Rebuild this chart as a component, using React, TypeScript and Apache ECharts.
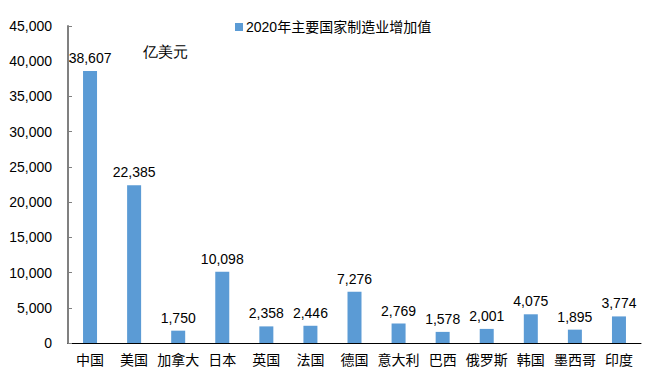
import React, { useEffect, useRef } from "react";
import * as echarts from "echarts";

const categories = ["中国", "美国", "加拿大", "日本", "英国", "法国", "德国", "意大利", "巴西", "俄罗斯", "韩国", "墨西哥", "印度"];
const values = [38607, 22385, 1750, 10098, 2358, 2446, 7276, 2769, 1578, 2001, 4075, 1895, 3774];
const seriesName = "2020年主要国家制造业增加值";
const unitLabel = "亿美元";

const FONT = "'Liberation Sans', Arial, 'Noto Sans CJK SC', sans-serif";

export default function App() {
  const ref = useRef<HTMLDivElement>(null);
  useEffect(() => {
    if (!ref.current) return;
    const chart = echarts.init(ref.current, undefined, { renderer: "svg" });
    chart.setOption({
      animation: false,
      backgroundColor: "#ffffff",
      textStyle: { fontFamily: FONT },
      legend: {
        data: [seriesName],
        top: 15,
        left: 230,
        itemWidth: 8,
        itemHeight: 8,
        itemGap: 4,
        icon: "rect",
        textStyle: { fontSize: 14, color: "#000", fontFamily: FONT, padding: [0, 0, 0, -2] },
      },
      graphic: [
        {
          type: "text",
          left: 143,
          top: 44,
          style: { text: unitLabel, fontSize: 15, fill: "#000", font: `15px ${FONT}` },
        },
      ],
      grid: { left: 68, right: 17, top: 26, bottom: 39, containLabel: false },
      xAxis: {
        type: "category",
        data: categories,
        axisLine: { show: true, lineStyle: { color: "#000", width: 1 } },
        axisTick: { show: false },
        axisLabel: { fontSize: 14, color: "#000", margin: 10, interval: 0, fontFamily: FONT },
      },
      yAxis: {
        type: "value",
        min: 0,
        max: 45000,
        interval: 5000,
        axisLine: { show: true, lineStyle: { color: "#808080", width: 2 } },
        axisTick: { show: true, inside: true, length: 4, lineStyle: { color: "#808080", width: 1 } },
        splitLine: { show: false },
        axisLabel: {
          fontSize: 14,
          color: "#000",
          margin: 16,
          fontFamily: FONT,
          formatter: (v: number) => v.toLocaleString("en-US"),
        },
      },
      series: [
        {
          name: seriesName,
          type: "bar",
          data: values,
          barWidth: 14,
          itemStyle: { color: "#5B9BD5" },
          label: {
            show: true,
            position: "top",
            distance: 6,
            fontSize: 14,
            color: "#000",
            fontFamily: FONT,
            formatter: (p: any) => Number(p.value).toLocaleString("en-US"),
          },
        },
      ],
    });
    return () => chart.dispose();
  }, []);
  return <div ref={ref} style={{ width: 658, height: 382, position: "absolute", left: 0, top: 0 }} />;
}
